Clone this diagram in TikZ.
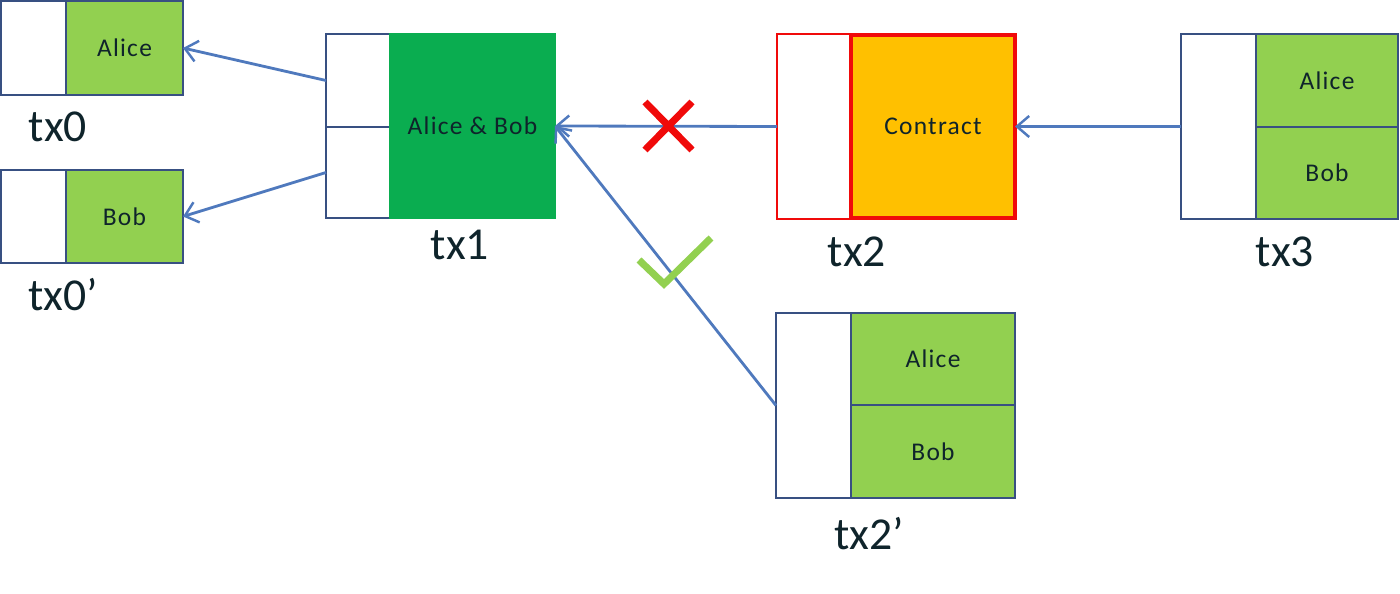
\documentclass[tikz,border=0pt]{standalone}
\usepackage{fontspec}
\setmainfont{Carlito}
\usetikzlibrary{fit,arrows.meta}
\definecolor{txt}{RGB}{15,36,43}
\definecolor{bord}{RGB}{56,80,130}
\definecolor{lgreen}{RGB}{146,208,80}
\definecolor{dgreen}{RGB}{10,173,80}
\definecolor{orng}{RGB}{255,192,0}
\definecolor{lnblue}{RGB}{79,121,189}
\definecolor{xred}{RGB}{240,10,10}
\tikzset{
  cell/.style={draw=bord, line width=0.9pt, inner sep=0pt, outer sep=0pt},
  wcell/.style={cell, fill=white},
  gcell/.style={cell, fill=lgreen},
  ctext/.style={text=txt, inner sep=0pt, font=\fontsize{14.5}{16}\selectfont\addfontfeatures{LetterSpace=5}},
  lbl/.style={text=txt, font=\fontsize{26}{30}\selectfont, inner sep=0pt},
  arr/.style={draw=lnblue, line width=1.6pt, -{Straight Barb[length=7pt,width=12pt,line width=1.4pt]}},
}
\begin{document}
\begin{tikzpicture}[x=0.02cm,y=-0.02cm]
\useasboundingbox (0,0) rectangle (1400,594);
% tx0
\node[wcell, fit={(1,1)(66,95)}] (tx0in) {};
\node[gcell, fit={(66,1)(183,95)}, label={[ctext]center:Alice}] (tx0out) {};
\node[lbl] (l0) at (58,127) {tx0};
% tx0'
\node[wcell, fit={(1,170)(66,263)}] (tx0pin) {};
\node[gcell, fit={(66,170)(183,263)}, label={[ctext]center:Bob}] (tx0pout) {};
\node[lbl] (l0p) at (63,295) {tx0’};
% tx1
\node[wcell, fit={(326,34)(390,127)}] (tx1a) {};
\node[wcell, fit={(326,127)(390,218)}] (tx1b) {};
\node[cell, draw=dgreen, fill=dgreen, fit={(390,34)(555,218)}, label={[ctext]center:Alice \& Bob}] (tx1out) {};
\node[lbl] (l1) at (460,245) {tx1};
% tx2
\node[wcell, draw=xred, line width=1.2pt, fit={(777,34)(850,219)}] (tx2in) {};
\node[cell, draw=xred, line width=2.6pt, fill=orng, fit={(851,35)(1015,218)}, label={[ctext]center:Contract}] (tx2out) {};
\node[lbl] (l2) at (857,252) {tx2};
% tx3
\node[wcell, fit={(1181,34)(1256,219)}] (tx3in) {};
\node[gcell, fit={(1256,34)(1398,127)}, label={[ctext]center:Alice}] (tx3a) {};
\node[gcell, fit={(1256,127)(1398,219)}, label={[ctext]center:Bob}] (tx3b) {};
\node[lbl] (l3) at (1285,252) {tx3};
% tx2'
\node[wcell, fit={(776,313)(851,498)}] (tx2pin) {};
\node[gcell, fit={(851,313)(1015,405)}, label={[ctext]center:Alice}] (tx2pa) {};
\node[gcell, fit={(851,405)(1015,498)}, label={[ctext]center:Bob}] (tx2pb) {};
\node[lbl] (l2p) at (869,534) {tx2’};
% connectors
\draw[arr] (tx1a.west) -- (tx0out.east);
\draw[arr] (tx1b.west) -- (tx0pout.east);
\draw[arr] (tx2in.west) -- (tx1out.east);
\draw[arr] (tx3in.west) -- (tx2out.east);
\draw[arr] (tx2pin.west) -- (tx1out.east);
% marks
\draw[xred, line width=4pt] (645,102) -- (692,150) (692,102) -- (645,150);
\draw[lgreen, line width=4pt] (639,260) -- (664,284) -- (711,238);
\end{tikzpicture}
\end{document}
